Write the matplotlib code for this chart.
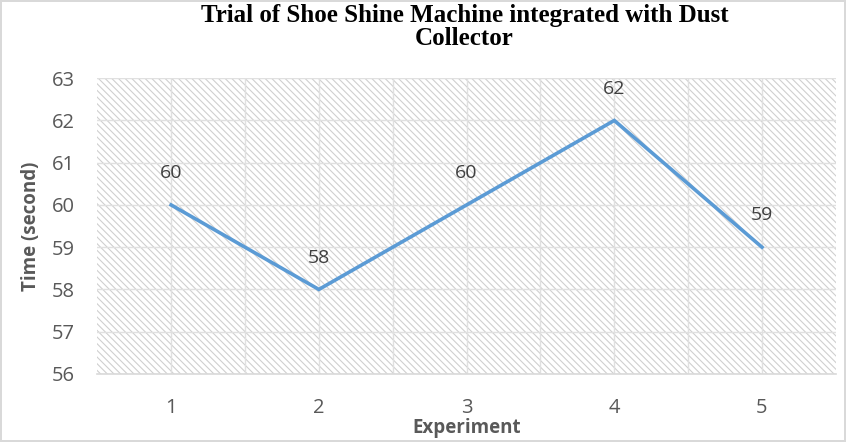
import matplotlib.pyplot as plt
from matplotlib.patches import Rectangle

# data
experiments = [1, 2, 3, 4, 5]
times = [60, 58, 60, 62, 59]
yticks = [56, 57, 58, 59, 60, 61, 62, 63]

plt.rcParams['hatch.linewidth'] = 0.8

fig = plt.figure(figsize=(8.46, 4.42), dpi=100)
fig.patch.set_edgecolor('#d9d9d9')
fig.patch.set_linewidth(1.5)
ax = fig.add_axes([0.115, 0.154, 0.873, 0.669])

# diagonal hatched plot area
ax.add_patch(Rectangle((0, 0), 1, 1, transform=ax.transAxes, facecolor='white',
                       edgecolor='#cfcfcf', hatch='\\\\\\\\\\', linewidth=0, zorder=0))

ax.plot(experiments, times, color='#5b9bd5', linewidth=2.6, solid_joinstyle='miter', zorder=3)
for x, y in zip(experiments, times):
    ax.annotate(str(y), (x, y), xytext=(0, 23), textcoords='offset points',
                ha='center', va='center', fontsize=14, color='#404040',
                family='Open Sans')

ax.set_xlim(0.5, 5.5)
ax.set_ylim(56, 63)
ax.set_yticks(yticks)
ax.set_xticks(experiments)
ax.set_xticks([1.5, 2.5, 3.5, 4.5], minor=True)
ax.grid(True, which='both', color='#e0e0e0', linewidth=1.0, zorder=1)
ax.set_axisbelow(True)
ax.tick_params(which='both', length=0)
ax.tick_params(axis='both', labelsize=14.5, labelcolor='#595959')
ax.tick_params(axis='x', pad=17)
ax.tick_params(axis='y', pad=16)
for lab in ax.get_xticklabels() + ax.get_yticklabels():
    lab.set_family('Open Sans')

for s in ['top', 'right', 'left']:
    ax.spines[s].set_visible(False)
ax.spines['bottom'].set_color('#d9d9d9')
ax.spines['bottom'].set_linewidth(1.2)

ax.set_xlabel('Experiment', fontsize=13.5, fontweight='bold', color='#595959',
              family='Open Sans', labelpad=0)
ax.set_ylabel('Time (second)', fontsize=13.5, fontweight='bold', color='#595959',
              family='Open Sans', labelpad=8)

fig.suptitle('Trial of Shoe Shine Machine integrated with Dust\nCollector',
             x=0.549, y=0.99, fontsize=18, fontweight='bold',
             family='Liberation Serif', linespacing=0.95, va='top')

fig.savefig('out.png', dpi=100)
